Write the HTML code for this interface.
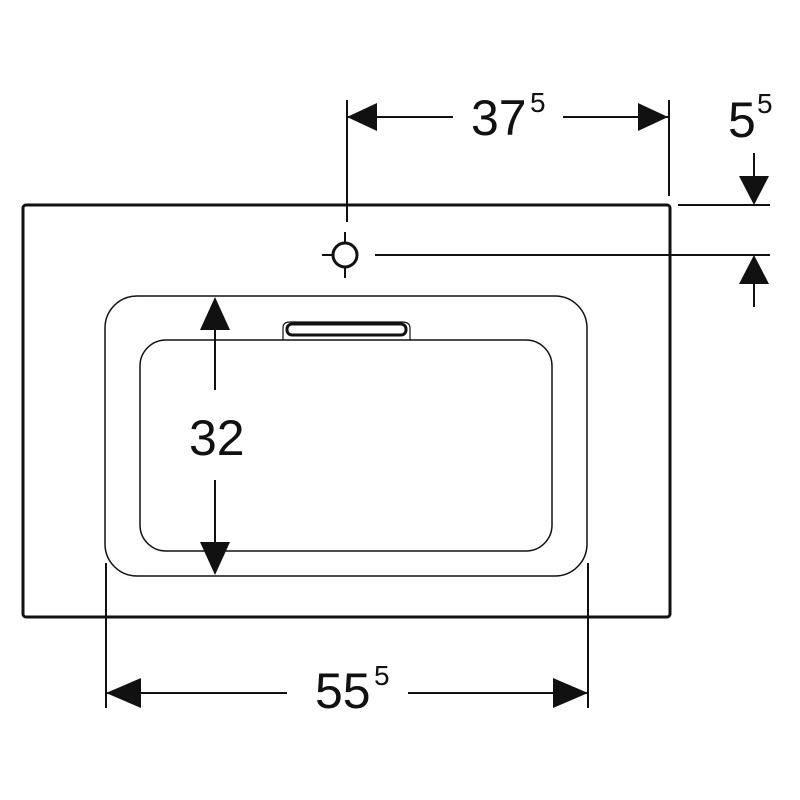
<!DOCTYPE html>
<html><head><style>body{margin:0;background:#fff}svg{display:block}</style></head><body>
<svg width="800" height="800" viewBox="0 0 800 800" xmlns="http://www.w3.org/2000/svg">
<g fill="none" stroke="#111">
<rect x="23" y="205" width="647" height="412" rx="3" stroke-width="3"/>
<rect x="105" y="296" width="482" height="280" rx="32" stroke-width="1.5"/>
<rect x="140" y="340" width="412" height="211" rx="26" stroke-width="1.5"/>
<path d="M283 340 V328 Q283 322 290 322 H402 Q410 322 410 328 V340" stroke-width="1.2"/>
<rect x="287" y="324" width="119" height="11" rx="5" stroke-width="3"/>
<circle cx="345" cy="255" r="12" stroke-width="3"/>
</g>
<g stroke="#111" stroke-width="2">
<line x1="347" y1="100" x2="347" y2="222"/>
<line x1="345" y1="232" x2="345" y2="242"/>
<line x1="345" y1="268" x2="345" y2="278"/>
<line x1="322" y1="255" x2="332" y2="255"/>
<line x1="375" y1="255" x2="770" y2="255"/>
<line x1="669" y1="100" x2="669" y2="196"/>
<line x1="678" y1="205" x2="770" y2="205"/>
<line x1="347" y1="117" x2="453" y2="117"/>
<line x1="563" y1="117" x2="668" y2="117"/>
<line x1="754" y1="153" x2="754" y2="185"/>
<line x1="754" y1="275" x2="754" y2="307"/>
<line x1="215" y1="310" x2="215" y2="390"/>
<line x1="215" y1="480" x2="215" y2="560"/>
<line x1="106" y1="563" x2="106" y2="708"/>
<line x1="588" y1="563" x2="588" y2="708"/>
<line x1="106" y1="693" x2="287" y2="693"/>
<line x1="408" y1="693" x2="588" y2="693"/>
</g>
<g fill="#111">
<polygon points="347,117 377,103 377,131"/>
<polygon points="668,117 638,103 638,131"/>
<polygon points="754,205 739,176 769,176"/>
<polygon points="754,255 739,284 769,284"/>
<polygon points="215,297 200,330 230,330"/>
<polygon points="215,575 200,542 230,542"/>
<polygon points="106,693 141,678 141,708"/>
<polygon points="588,693 553,678 553,708"/>
</g>
<g font-family="Liberation Sans, sans-serif" fill="#111">
<text x="471" y="135" font-size="50">37</text><text x="530" y="112" font-size="28">5</text>
<text x="728" y="137" font-size="50">5</text><text x="757" y="113" font-size="28">5</text>
<text x="189" y="455" font-size="50">32</text>
<text x="315" y="708" font-size="50">55</text><text x="374" y="685" font-size="28">5</text>
</g>
</svg>
</body></html>
